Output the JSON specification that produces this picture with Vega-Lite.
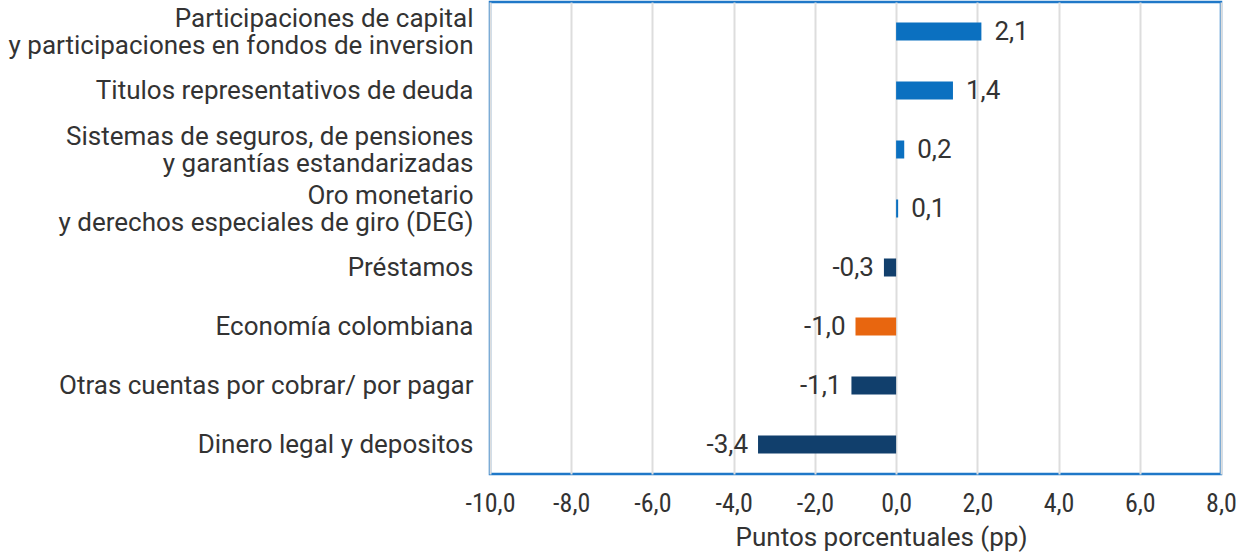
{
  "$schema": "https://vega.github.io/schema/vega-lite/v6.json",
  "autosize": {"type": "none"},
  "width": 731,
  "height": 472,
  "padding": {"left": 490, "top": 2, "right": 23, "bottom": 80},
  "background": "white",
  "config": {
    "locale": {"number": {"decimal": ",", "thousands": ".", "grouping": [3], "currency": ["$", ""], "minus": "-"}},
    "view": {"stroke": "#1f78c8", "strokeWidth": 2.5},
    "font": "Roboto"
  },
  "data": {"values": [
    {"cat": "Participaciones de capital|y participaciones en fondos de inversion", "v": 2.1, "g": "pos"},
    {"cat": "Titulos representativos de deuda", "v": 1.4, "g": "pos"},
    {"cat": "Sistemas de seguros, de pensiones|y garantías estandarizadas", "v": 0.2, "g": "pos"},
    {"cat": "Oro monetario|y derechos especiales de giro (DEG)", "v": 0.05, "g": "pos", "lab": 0.1},
    {"cat": "Préstamos", "v": -0.3, "g": "neg"},
    {"cat": "Economía colombiana", "v": -1.0, "g": "tot"},
    {"cat": "Otras cuentas por cobrar/ por pagar", "v": -1.1, "g": "neg"},
    {"cat": "Dinero legal y depositos", "v": -3.4, "g": "neg"}
  ]},
  "transform": [{"calculate": "isValid(datum.lab) ? datum.lab : datum.v", "as": "labv"}],
  "encoding": {
    "y": {
      "field": "cat", "type": "nominal", "sort": null, "title": null,
      "axis": {"domain": false, "ticks": false, "labelFontSize": 26, "labelColor": "#333333", "labelPadding": 17, "labelBaseline": "middle", "labelExpr": "split(datum.value, '|')", "labelLineHeight": 27, "labelLimit": 500,
        "labelOffset": {"condition": {"test": "indexof(datum.value, '|') >= 0", "value": -13}, "value": 0}}
    }
  },
  "layer": [
    {
      "mark": {"type": "bar", "size": 18},
      "encoding": {
        "x": {
          "field": "v", "type": "quantitative",
          "scale": {"domain": [-10, 8], "nice": false},
          "title": "Puntos porcentuales (pp)",
          "axis": {"values": [-10, -8, -6, -4, -2, 0, 2, 4, 6, 8], "format": ".1f", "domain": false, "ticks": false, "labelFlush": false, "gridColor": "#dddddd", "gridWidth": 2, "labelFont": "Roboto Condensed, Liberation Sans Narrow, DejaVu Sans Condensed, Roboto", "labelFontSize": 26, "labelColor": "#333333", "labelPadding": 16, "titleFontSize": 26, "titleFontWeight": "normal", "titleColor": "#333333", "titlePadding": 8, "titleX": 391, "titleAlign": "center"}
        },
        "color": {
          "field": "g", "type": "nominal", "legend": null,
          "scale": {"domain": ["pos", "neg", "tot"], "range": ["#0b70c0", "#113f6c", "#e8660f"]}
        }
      }
    },
    {
      "transform": [{"filter": "datum.v >= 0"}],
      "mark": {"type": "text", "align": "left", "dx": 13, "fontSize": 26, "color": "#333333"},
      "encoding": {
        "x": {"field": "v", "type": "quantitative"},
        "text": {"field": "labv", "type": "quantitative", "format": ".1f"}
      }
    },
    {
      "transform": [{"filter": "datum.v < 0"}],
      "mark": {"type": "text", "align": "right", "dx": -10, "fontSize": 26, "color": "#333333"},
      "encoding": {
        "x": {"field": "v", "type": "quantitative"},
        "text": {"field": "labv", "type": "quantitative", "format": ".1f"}
      }
    }
  ]
}
